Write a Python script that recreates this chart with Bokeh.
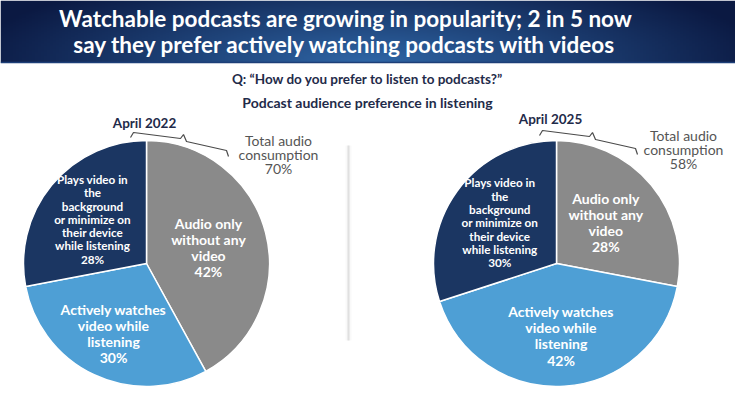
import numpy as np
from bokeh.plotting import figure
from bokeh.models import Range1d
from bokeh.core.properties import value
from bokeh.embed import file_html
from bokeh.resources import INLINE

# ---------------- data ----------------
categories = ["Audio only without any video",
              "Actively watches video while listening",
              "Plays video in the background or minimize on their device while listening"]
labels_wrapped = ["Audio only\nwithout any\nvideo",
                  "Actively watches\nvideo while\nlistening",
                  "Plays video in\nthe\nbackground\nor minimize on\ntheir device\nwhile listening"]
years = ["April 2022", "April 2025"]
values_2022 = [42, 30, 28]
values_2025 = [28, 42, 30]
total_audio = [70, 58]

title_lines = ["Watchable podcasts are growing in popularity; 2 in 5 now",
               "say they prefer actively watching podcasts with videos"]
question = "Q: \u201cHow do you prefer to listen to podcasts?\u201d"
subtitle = "Podcast audience preference in listening"

# ---------------- style ----------------
colors = ["#8a8a8a", "#4e9fd5", "#1b3662"]
NAVY_TXT = "#1f2b4a"
FONT = value("Lato")
W, H = 735, 397

p = figure(width=W, height=H, x_range=Range1d(0, 735), y_range=Range1d(-397, 0),
           output_backend="svg", toolbar_location=None, min_border=0,
           x_axis_type=None, y_axis_type=None)
p.grid.visible = False
p.outline_line_color = None
p.background_fill_color = "white"
p.border_fill_color = "white"

# banner with radial gradient
rows, cols = 60, 240
yy, xx = np.mgrid[0:rows, 0:cols]
dx = (xx / (cols - 1) - 0.5) / 0.55
dy = (yy / (rows - 1)) / 1.6   # row 0 = bottom of image
d = np.clip(np.sqrt(dx ** 2 + dy ** 2), 0, 1)
c0 = np.array([0x2f, 0x66, 0xa6])
c1 = np.array([0x0b, 0x19, 0x42])
rgb = c0[None, None, :] * (1 - d[..., None]) + c1[None, None, :] * d[..., None]
img = np.empty((rows, cols), dtype=np.uint32)
view = img.view(dtype=np.uint8).reshape((rows, cols, 4))
view[..., 0] = rgb[..., 0].astype(np.uint8)
view[..., 1] = rgb[..., 1].astype(np.uint8)
view[..., 2] = rgb[..., 2].astype(np.uint8)
view[..., 3] = 255
p.image_rgba(image=[img], x=0, y=-62, dw=735, dh=62)
p.line(x=[0, 735], y=[-62, -62], line_color="#1d3f78", line_width=1.5)

p.text(x=[345, 345], y=[-18, -44], text=title_lines, text_font=FONT,
       text_font_size="22.5px", text_font_style="bold", text_color="white",
       text_align="center", text_baseline="middle")

p.text(x=[367], y=[-78], text=[question], text_font=FONT, text_font_size="13.5px",
       text_font_style="bold", text_color=NAVY_TXT, text_align="center", text_baseline="middle")
p.text(x=[367], y=[-102], text=[subtitle], text_font=FONT, text_font_size="14px",
       text_font_style="bold", text_color=NAVY_TXT, text_align="center", text_baseline="middle")

# faint shadow divider
for w_, a_ in [(6, 0.06), (3, 0.10), (1.5, 0.18)]:
    p.line(x=[348, 348], y=[-145, -340], line_color="#9a9a9a", line_width=w_, line_alpha=a_)

centers = [(146, 263), (556, 263)]
R = 123
label_frac = [[0.52, 0.63, 0.57], [0.52, 0.59, 0.57]]
label_size = ["14px", "14px", "11.7px"]
label_lh = [0.95, 0.95, 0.95]
year_pos = [(144, 122), (550, 118)]
total_pos = [(278, 154), (683, 149)]

for (cx, cy), vals, yr, tot, dxo, (yx, yy_), (tx, ty), fr in zip(
        centers, [values_2022, values_2025], years, total_audio, [0, 409], year_pos, total_pos,
        label_frac):
    cum = np.concatenate([[0], np.cumsum(vals)]) / 100.0
    starts = np.radians(90 - 360 * cum[1:])
    ends = np.radians(90 - 360 * cum[:-1])
    p.wedge(x=[cx] * 3, y=[-cy] * 3, radius=R, start_angle=list(starts), end_angle=list(ends),
            fill_color=colors, line_color="white", line_width=1.5)
    mids = np.radians(360 * (cum[:-1] + cum[1:]) / 2)
    for i in range(3):
        lx = cx + R * fr[i] * np.sin(mids[i])
        ly = -cy + R * fr[i] * np.cos(mids[i])
        p.text(x=[lx], y=[ly], text=[labels_wrapped[i] + "\n" + f"{vals[i]}%"], text_font=FONT,
               text_font_size=label_size[i], text_font_style="bold", text_color="white",
               text_align="center", text_baseline="middle", text_line_height=label_lh[i])
    # year label
    p.text(x=[yx], y=[-yy_], text=[yr], text_font=FONT,
           text_font_size="13.5px", text_font_style="bold", text_color=NAVY_TXT,
           text_align="center", text_baseline="middle")
    # brace
    bx = np.array([130, 133, 180, 183, 186, 226, 228]) + dxo
    by = np.array([137, 132, 138, 134, 141, 150, 156]) - (2 if dxo else 0)
    p.line(x=bx, y=-by, line_color="#4a4a4a", line_width=1.2)
    p.text(x=[tx], y=[-ty], text=[f"Total audio\nconsumption\n{tot}%"], text_font=FONT,
           text_font_size="14px", text_color="#555555", text_align="center",
           text_baseline="middle", text_line_height=0.85)

open("out.html", "w").write(file_html(p, INLINE))
